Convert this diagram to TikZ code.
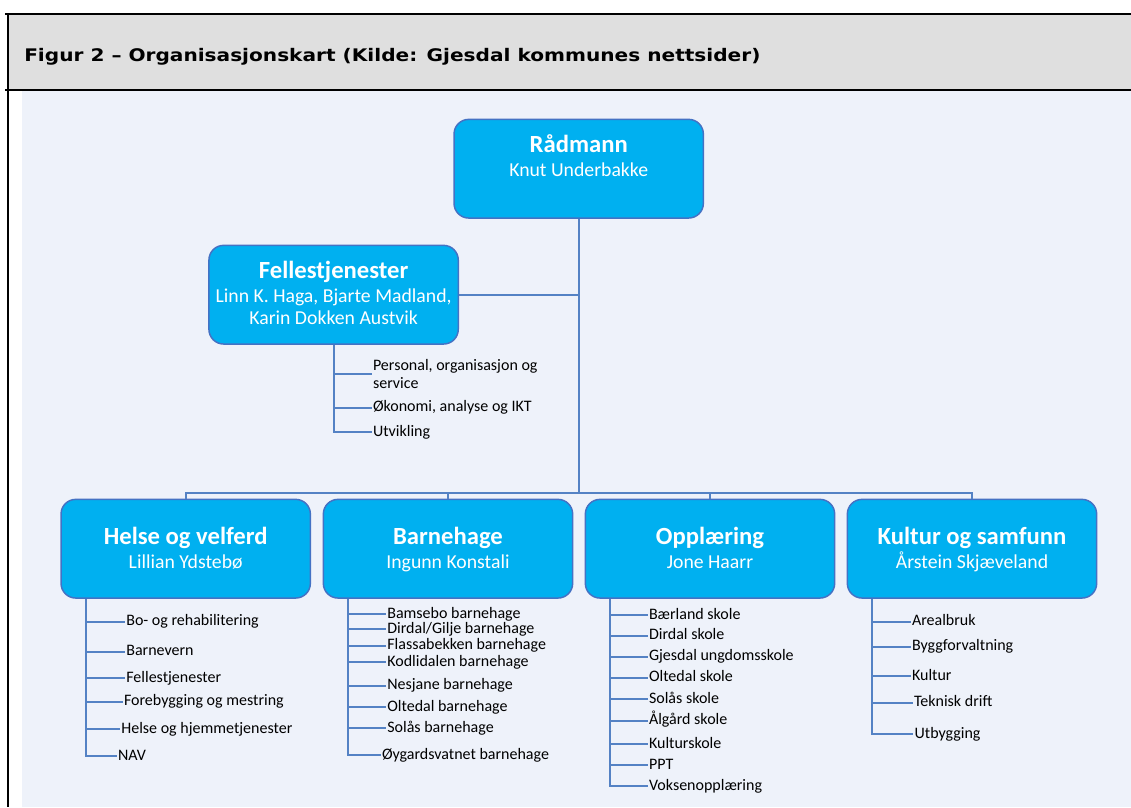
\documentclass[tikz,border=0pt]{standalone}
\usepackage{fontspec}
\setmainfont{Carlito}
\newfontfamily\headfont[FakeStretch=1.16]{DejaVu Sans}
\usetikzlibrary{positioning,calc}
\definecolor{boxfill}{RGB}{0,176,240}
\definecolor{boxline}{RGB}{68,114,196}
\definecolor{linkline}{RGB}{84,130,196}
\definecolor{headgray}{RGB}{223,223,223}
\definecolor{paneblue}{RGB}{238,242,250}

\begin{document}
\begin{tikzpicture}[
    x=0.75pt, y=-0.75pt,
    unit/.style={rectangle, draw=boxline, line width=1.1pt, fill=boxfill, rounded corners=11pt, minimum width=187pt, minimum height=74pt},
    unittitle/.style={anchor=base, text=white, inner sep=0pt, font=\fontsize{18.5}{22}\selectfont\bfseries},
    unitname/.style={anchor=base, text=white, inner sep=0pt, font=\fontsize{14.8}{17.5}\selectfont},
    itembase/.style={anchor=west, inner xsep=0.8pt, inner ysep=0pt, align=left, font=\fontsize{12}{13.3}\selectfont},
    item/.style={itembase, text height=1.6ex, text depth=0.3ex},
    link/.style={draw=linkline, line width=1.4pt}
]
    \useasboundingbox (0,0) rectangle (1131,807);

    % Frame and caption
    \fill[headgray] (7,14) rectangle (1131,90);
    \fill[paneblue] (22,91) rectangle (1131,807);
    \draw[line width=1.6pt] (5,14) -- (1131,14);
    \draw[line width=1pt] (5,90) -- (1131,90);
    \draw[line width=1.6pt] (8,13) -- (8,807);
    \node[anchor=base west, inner sep=0pt, font=\headfont\bfseries\fontsize{13}{15}\selectfont] (caption) at (24,61.5) {Figur 2 – Organisasjonskart (Kilde: Gjesdal kommunes nettsider)};

    % Units
    \node[unit] (raadmann) at (578.7,168.7) {};
    \node[unittitle] (raadmanntitle) at (578.7,152.7) {Rådmann};
    \node[unitname] (raadmannname) at (578.7,176.7) {Knut Underbakke};

    \node[unit] (felles) at (333.6,294.7) {};
    \node[unittitle] (fellestitle) at (333.6,278.3) {Fellestjenester};
    \node[unitname] (fellesname) at (333.6,302.7) {Linn K. Haga, Bjarte Madland,};
    \node[unitname] (fellesnametwo) at (333.6,324.3) {Karin Dokken Austvik};

    \node[unit] (helse) at (185.7,548.7) {};
    \node[unittitle] (helsetitle) at (185.7,544) {Helse og velferd};
    \node[unitname] (helsename) at (185.7,568.3) {Lillian Ydstebø};

    \node[unit] (barnehage) at (448,548.7) {};
    \node[unittitle] (barnehagetitle) at (448,544) {Barnehage};
    \node[unitname] (barnehagename) at (448,568.3) {Ingunn Konstali};

    \node[unit] (opplaering) at (710,548.7) {};
    \node[unittitle] (opplaeringtitle) at (710,544) {Opplæring};
    \node[unitname] (opplaeringname) at (710,568.3) {Jone Haarr};

    \node[unit] (kultur) at (972,548.7) {};
    \node[unittitle] (kulturtitle) at (972,544) {Kultur og samfunn};
    \node[unitname] (kulturname) at (972,568.3) {Årstein Skjæveland};

    % Tree lines
    \coordinate (bus) at (578.7,493.3);
    \draw[link] (raadmann.south) -- (bus);
    \draw[link] (felles.east) -- (felles.east -| raadmann.south);
    \draw[link] (helse.north) |- (bus) -| (kultur.north);
    \draw[link] (barnehage.north) |- (bus);
    \draw[link] (opplaering.north) |- (bus);

    % Fellestjenester
    \node[itembase] (fs1) at (371.7,374.3) {Personal, organisasjon og\\service};
    \node[item] (fs2) at (371.7,407.7) {Økonomi, analyse og IKT};
    \node[item] (fs3) at (371.7,432.3) {Utvikling};
    \foreach \i in {1,2,3}
        \draw[link] (felles.south) |- (fs\i.west);

    % Helse og velferd
    \coordinate (hvspine) at ([xshift=19.5pt]helse.south west);
    \foreach \x/\y/\txt [count=\i] in {125/621.7/Bo- og rehabilitering, 125/651.7/Barnevern, 125/678.3/Fellestjenester,
        122.7/701.7/Forebygging og mestring, 120/729/Helse og hjemmetjenester, 116.7/756/NAV}
    {
        \node[item] (hv\i) at (\x,\y) {\txt};
        \draw[link] (hvspine) |- (hv\i.west);
    }

    % Barnehage
    \coordinate (bhspine) at ([xshift=19pt]barnehage.south west);
    \foreach \x/\y/\txt [count=\i] in {386/614/Bamsebo barnehage, 386/629.3/{Dirdal/Gilje barnehage}, 386/645.7/Flassabekken barnehage,
        386/662.3/Kodlidalen barnehage, 386/685.7/Nesjane barnehage, 386/707.3/Oltedal barnehage,
        386/728.3/Solås barnehage, 380.7/755/Øygardsvatnet barnehage}
    {
        \node[item] (bh\i) at (\x,\y) {\txt};
        \draw[link] (bhspine) |- (bh\i.west);
    }

    % Opplaering
    \coordinate (opspine) at ([xshift=19.2pt]opplaering.south west);
    \foreach \y/\txt [count=\i] in {615/Bærland skole, 635.7/Dirdal skole, 656.7/Gjesdal ungdomsskole,
        677.7/Oltedal skole, 699.3/Solås skole, 720.7/Ålgård skole, 744/Kulturskole, 765/PPT, 786/Voksenopplæring}
    {
        \node[item] (op\i) at (647.7,\y) {\txt};
        \draw[link] (opspine) |- (op\i.west);
    }

    % Kultur og samfunn
    \coordinate (ksspine) at ([xshift=18.8pt]kultur.south west);
    \foreach \x/\y/\txt [count=\i] in {910.7/621.7/Arealbruk, 910.7/646.7/Byggforvaltning, 910.7/676/Kultur,
        912.7/702.7/Teknisk drift, 913.3/734.3/Utbygging}
    {
        \node[item] (ks\i) at (\x,\y) {\txt};
        \draw[link] (ksspine) |- (ks\i.west);
    }

\end{tikzpicture}
\end{document}
